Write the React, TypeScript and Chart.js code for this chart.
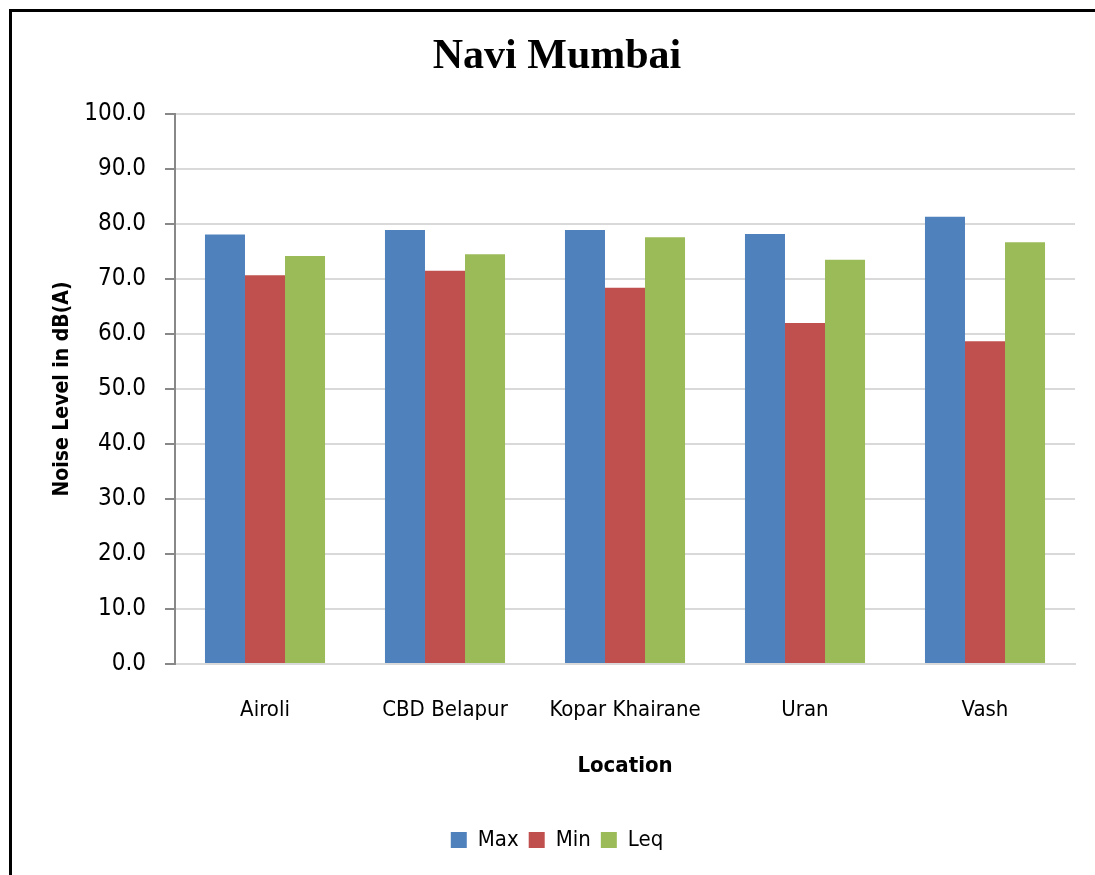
import React, { useEffect, useRef } from "react";
import { Chart, registerables } from "chart.js";

Chart.register(...registerables);

const categories = ["Airoli", "CBD Belapur", "Kopar Khairane", "Uran", "Vash"];
const maxValues = [78.1, 78.9, 78.9, 78.2, 81.3];
const minValues = [70.7, 71.5, 68.4, 62.0, 58.7];
const leqValues = [74.2, 74.5, 77.6, 73.5, 76.7];
const seriesNames = ["Max", "Min", "Leq"];
const seriesColors = ["#4f81bd", "#c0504d", "#9bbb59"];

const NARROW = "'Liberation Sans Narrow', 'DejaVu Sans Condensed', sans-serif";

export default function App() {
  const ref = useRef<HTMLCanvasElement | null>(null);

  useEffect(() => {
    if (!ref.current) return;
    const chart = new Chart(ref.current, {
      type: "bar",
      data: {
        labels: categories,
        datasets: [maxValues, minValues, leqValues].map((d, i) => ({
          label: seriesNames[i],
          data: d,
          backgroundColor: seriesColors[i],
          borderWidth: 0,
          categoryPercentage: 0.667,
          barPercentage: 1,
        })),
      },
      options: {
        responsive: false,
        animation: false,
        devicePixelRatio: 1,
        layout: { padding: { top: 32, bottom: 14, left: 0, right: 0 } },
        plugins: {
          title: {
            display: true,
            text: "Navi Mumbai",
            color: "#000",
            font: { family: "'Liberation Serif', 'Times New Roman', serif", size: 42, weight: "bold", lineHeight: 1.2 },
            padding: { top: 0, bottom: 31.6 },
          },
          legend: {
            position: "bottom",
            labels: {
              color: "#000",
              font: { family: NARROW, size: 22 },
              boxWidth: 16,
              boxHeight: 16,
              padding: 10,
            },
          },
          tooltip: { enabled: false },
        },
        scales: {
          x: {
            grid: { display: false, drawTicks: false },
            border: { display: true, color: "#d9d9d9", width: 2 },
            ticks: {
              color: "#000",
              font: { family: NARROW, size: 22 },
              padding: 33,
              maxRotation: 0,
            },
            title: {
              display: true,
              text: "Location",
              color: "#000",
              font: { family: NARROW, size: 22, weight: "bold", lineHeight: 1.2 },
              padding: { top: 0, bottom: 40 },
            },
            afterFit: (s: any) => {
              s.height = 155;
            },
          },
          y: {
            min: 0,
            max: 100,
            ticks: {
              stepSize: 10,
              color: "#000",
              font: { family: NARROW, size: 24 },
              padding: 19,
              callback: (v: any) => Number(v).toFixed(1),
            },
            grid: { color: "#d9d9d9", lineWidth: 2, tickColor: "#888888", tickLength: 10 },
            border: { display: true, color: "#888888", width: 2 },
            title: {
              display: true,
              text: "Noise Level in dB(A)",
              color: "#000",
              font: { family: NARROW, size: 21, weight: "bold", lineHeight: 1.2 },
              padding: { top: 50, bottom: 0 },
            },
            afterFit: (s: any) => {
              s.width = 175;
            },
          },
          yR: {
            position: "right",
            display: true,
            grid: { display: false, drawTicks: false },
            border: { display: false },
            ticks: { display: false },
            afterFit: (s: any) => {
              s.width = 39;
            },
          },
        },
      },
    });
    return () => chart.destroy();
  }, []);

  return (
    <div
      style={{
        position: "absolute",
        left: 0,
        top: 0,
        width: 1095,
        height: 875,
        overflow: "hidden",
        background: "#fff",
      }}
    >
      <canvas ref={ref} width={1114} height={875} style={{ position: "absolute", left: 0, top: 0, width: 1114, height: 875 }} />
      <div
        style={{
          position: "absolute",
          left: 9,
          top: 9,
          width: 1120,
          height: 900,
          border: "3px solid #000",
          pointerEvents: "none",
        }}
      />
    </div>
  );
}
